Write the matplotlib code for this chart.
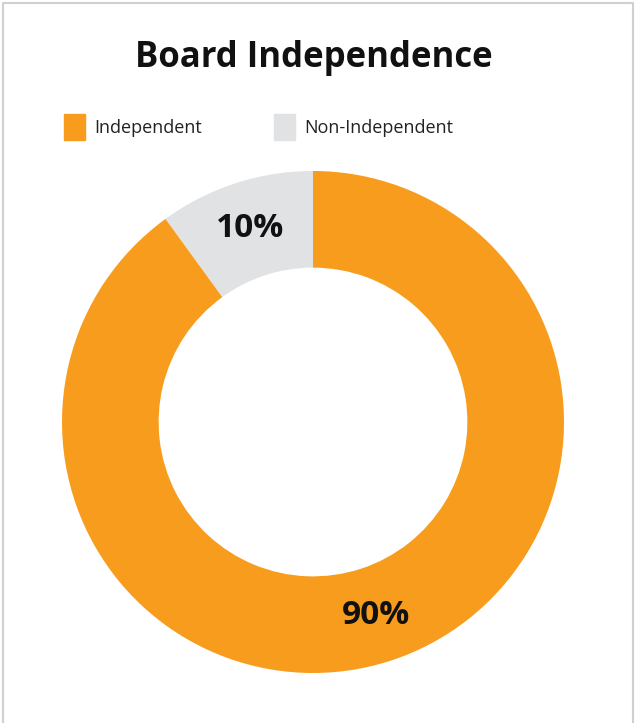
import matplotlib.pyplot as plt
from matplotlib.lines import Line2D

labels = ["Independent", "Non-Independent"]
values = [90, 10]
colors = ["#F89C1E", "#E1E2E4"]

plt.rcParams["font.family"] = ["Open Sans", "DejaVu Sans"]

fig = plt.figure(figsize=(6.35, 7.23), dpi=100)
ax = fig.add_axes([62 / 635, 50 / 723, 502 / 635, 502 / 723])

# donut, clockwise from 12 o'clock with the small slice on the left
wedges, texts, autotexts = ax.pie(
    values[::-1], colors=colors[::-1], startangle=90, counterclock=True,
    radius=1, autopct="%d%%", pctdistance=0.81,
    wedgeprops=dict(width=0.385, linewidth=0),
    textprops=dict(fontsize=24, fontweight="bold", color="#111111"),
)
ax.set_xlim(-1, 1)
ax.set_ylim(-1, 1)
ax.set_aspect("equal")
ax.axis("off")

fig.text(314 / 635, 1 - 58 / 723, "Board Independence", ha="center", va="center",
         fontsize=25, fontweight="bold", color="#111111")

handles = [plt.Rectangle((0, 0), 1, 1, color=c) for c in colors]
fig.legend(handles, labels, ncol=2, loc="center", bbox_to_anchor=(258.5 / 635, 1 - 127 / 723),
           frameon=False, fontsize=13, handlelength=1.17, handleheight=1.76,
           handletextpad=0.5, columnspacing=4.0, labelcolor="#222222")

# outer frame on left, top and right
frame = Line2D([2.5 / 635, 2.5 / 635, 632.5 / 635, 632.5 / 635], [0, 1 - 2.5 / 723, 1 - 2.5 / 723, 0],
               transform=fig.transFigure, color="#D0D0D0", linewidth=1.5)
fig.add_artist(frame)

fig.savefig("out.png", dpi=100)
